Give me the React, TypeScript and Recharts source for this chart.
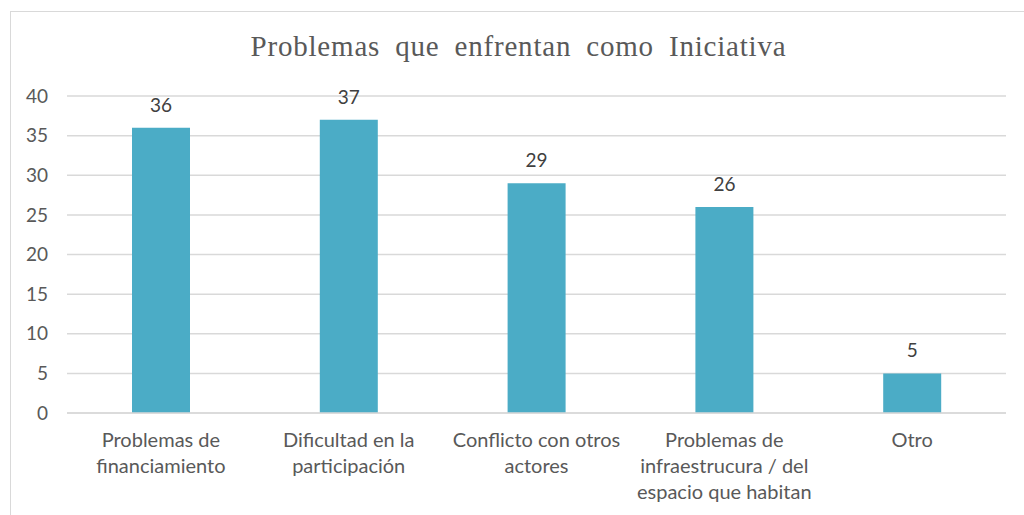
import { BarChart, Bar, XAxis, YAxis, CartesianGrid, LabelList } from "recharts";

const categories = [
  "Problemas de\nfinanciamiento",
  "Dificultad en la\nparticipación",
  "Conflicto con otros\nactores",
  "Problemas de\ninfraestrucura / del\nespacio que habitan",
  "Otro",
];
const values = [36, 37, 29, 26, 5];
const yTicks = [0, 5, 10, 15, 20, 25, 30, 35, 40];

const data = categories.map((c, i) => ({ name: c, value: values[i] }));

const FONT = "Lato, 'Open Sans', sans-serif";

const CategoryTick = ({ x, y, payload }: any) => {
  const lines = String(payload.value).split("\n");
  return (
    <text x={x} y={y} textAnchor="middle" fill="#595959" fontSize={20} fontFamily={FONT}>
      {lines.map((l, i) => (
        <tspan key={i} x={x} dy={26}>
          {l}
        </tspan>
      ))}
    </text>
  );
};

export default function App() {
  return (
    <div
      style={{
        position: "absolute",
        left: 0,
        top: 0,
        width: 1024,
        height: 515,
        overflow: "hidden",
        background: "#fff",
      }}
    >
      <div
        style={{
          position: "absolute",
          left: 10,
          top: 11,
          width: 1040,
          height: 540,
          border: "1.5px solid #d9d9d9",
        }}
      />
      <div
        style={{
          position: "absolute",
          left: 0,
          top: 30,
          width: 1037,
          textAlign: "center",
          fontFamily: "'Liberation Serif', serif",
          fontSize: 29,
          color: "#595959",
          letterSpacing: 0.8,
          wordSpacing: 7,
        }}
      >
        Problemas que enfrentan como Iniciativa
      </div>
      <div style={{ position: "absolute", left: 0, top: 0 }}>
        <BarChart
          width={1024}
          height={515}
          data={data}
          margin={{ top: 96, right: 18, bottom: 0, left: 7 }}
        >
          <CartesianGrid vertical={false} stroke="#d9d9d9" strokeWidth={1.5} />
          <XAxis
            dataKey="name"
            height={102}
            axisLine={{ stroke: "#d9d9d9", strokeWidth: 1.5 }}
            tickLine={false}
            tick={<CategoryTick />}
            interval={0}
          />
          <YAxis
            width={60}
            domain={[0, 40]}
            ticks={yTicks}
            axisLine={false}
            tickLine={false}
            tickSize={0}
            tickMargin={19}
            tick={{ fill: "#595959", fontSize: 19, fontFamily: FONT }}
          />
          <Bar dataKey="value" fill="#4bacc6" barSize={58} isAnimationActive={false}>
            <LabelList
              dataKey="value"
              position="top"
              offset={16}
              fill="#404040"
              fontSize={19}
              fontFamily={FONT}
            />
          </Bar>
        </BarChart>
      </div>
    </div>
  );
}
